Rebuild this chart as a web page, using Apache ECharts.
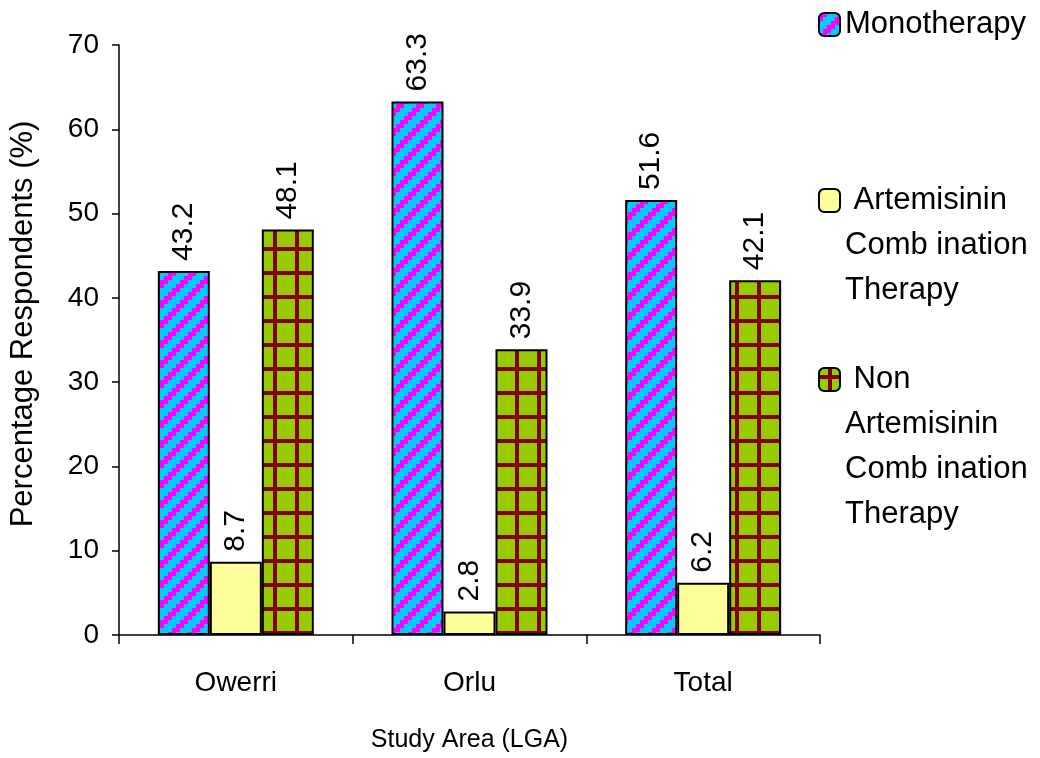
<!DOCTYPE html>
<html>
<head>
<meta charset="utf-8">
<script src="https://cdn.jsdelivr.net/npm/echarts@6/dist/echarts.min.js"></script>
<style>
  html, body { margin: 0; padding: 0; background: #ffffff; }
  #chart { width: 1040px; height: 758px; }
</style>
</head>
<body>
<div id="chart"></div>
<script>
// Study areas and the share of respondents (%) per treatment type
const categories = ['Owerri', 'Orlu', 'Total'];
const seriesNames = [
  'Monotherapy',
  'Artemisinin\nComb ination\nTherapy',
  'Non\nArtemisinin\nComb ination\nTherapy'
];
const monotherapy = [43.2, 63.3, 51.6];
const actTherapy = [8.7, 2.8, 6.2];
const nonActTherapy = [48.1, 33.9, 42.1];

const FONT = '"Liberation Sans", Arial, Helvetica, sans-serif';

// Cyan fill with magenta diagonal stripes (stepped, like a hatch pattern)
function stripeTile() {
  const c = document.createElement('canvas');
  c.width = 20; c.height = 20;
  const g = c.getContext('2d');
  g.fillStyle = '#00ccff';
  g.fillRect(0, 0, 20, 20);
  g.fillStyle = '#ff00ff';
  for (let cx = 0; cx < 5; cx++) {
    for (let cy = 0; cy < 5; cy++) {
      if ((cx + cy) % 5 < 2) g.fillRect(cx * 4, cy * 4, 4, 4);
    }
  }
  return c;
}

// Olive-green fill with a dark red grid
function gridTile() {
  const c = document.createElement('canvas');
  c.width = 22; c.height = 24;
  const g = c.getContext('2d');
  g.fillStyle = '#99cc00';
  g.fillRect(0, 0, 22, 24);
  g.fillStyle = '#800000';
  g.fillRect(9, 0, 4, 24);
  g.fillRect(0, 7, 22, 4);
  return c;
}

const stripeFill = { image: stripeTile(), repeat: 'repeat' };
const gridFill = { image: gridTile(), repeat: 'repeat' };

const barLabel = {
  show: true,
  position: 'top',
  rotate: 90,
  align: 'left',
  verticalAlign: 'middle',
  distance: 10,
  fontSize: 30,
  fontFamily: FONT,
  color: '#000'
};

// One legend block per series; the icon sits beside the first text line,
// so the name is padded with blank lines above to keep that line centred.
function legendBlock(name, top, leadSpace) {
  const lines = name.split('\n').length;
  return {
    data: [name],
    orient: 'vertical',
    left: 818,
    top: top,
    padding: 0,
    itemWidth: 21,
    itemHeight: 23,
    selectedMode: false,
    formatter: n => '\n'.repeat(lines - 1) + (leadSpace ? ' ' : '') + n,
    textStyle: {
      fontSize: 31,
      fontFamily: FONT,
      color: '#000',
      lineHeight: lines > 1 ? 45 : 24
    }
  };
}

const chart = echarts.init(document.getElementById('chart'), null, { renderer: 'canvas' });

chart.setOption({
  animation: false,
  backgroundColor: '#ffffff',
  grid: { left: 118, right: 220, top: 45, bottom: 122 },
  legend: [
    legendBlock(seriesNames[0], 9, false),
    legendBlock(seriesNames[1], 88, true),
    legendBlock(seriesNames[2], 222, true)
  ],
  xAxis: {
    type: 'category',
    data: categories,
    axisLine: { lineStyle: { color: '#000', width: 1.5 } },
    axisTick: { show: true, length: 9, lineStyle: { color: '#000', width: 1.5 } },
    axisLabel: { fontSize: 28, fontFamily: FONT, color: '#000', margin: 34 },
    name: 'Study Area (LGA)',
    nameLocation: 'middle',
    nameGap: 93,
    nameTextStyle: { fontSize: 25, fontFamily: FONT, color: '#000' }
  },
  yAxis: {
    type: 'value',
    min: 0,
    max: 70,
    interval: 10,
    axisLine: { show: true, lineStyle: { color: '#000', width: 1.5 } },
    axisTick: { show: true, length: 7, lineStyle: { color: '#000', width: 1.5 } },
    splitLine: { show: false },
    axisLabel: { fontSize: 28, fontFamily: FONT, color: '#000', margin: 20 },
    name: 'Percentage Respondents (%)',
    nameLocation: 'middle',
    nameGap: 80,
    nameTextStyle: { fontSize: 31, fontFamily: FONT, color: '#000', padding: [0, 0, 0, 32] }
  },
  series: [
    {
      name: seriesNames[0],
      type: 'bar',
      data: monotherapy,
      barWidth: 52,
      barGap: '0%',
      itemStyle: { color: stripeFill, borderColor: '#000', borderWidth: 2 },
      label: barLabel
    },
    {
      name: seriesNames[1],
      type: 'bar',
      data: actTherapy,
      barWidth: 52,
      barGap: '0%',
      itemStyle: { color: '#ffff99', borderColor: '#000', borderWidth: 2 },
      label: barLabel
    },
    {
      name: seriesNames[2],
      type: 'bar',
      data: nonActTherapy,
      barWidth: 52,
      barGap: '0%',
      itemStyle: { color: gridFill, borderColor: '#000', borderWidth: 2 },
      label: barLabel
    }
  ]
});
</script>
</body>
</html>
